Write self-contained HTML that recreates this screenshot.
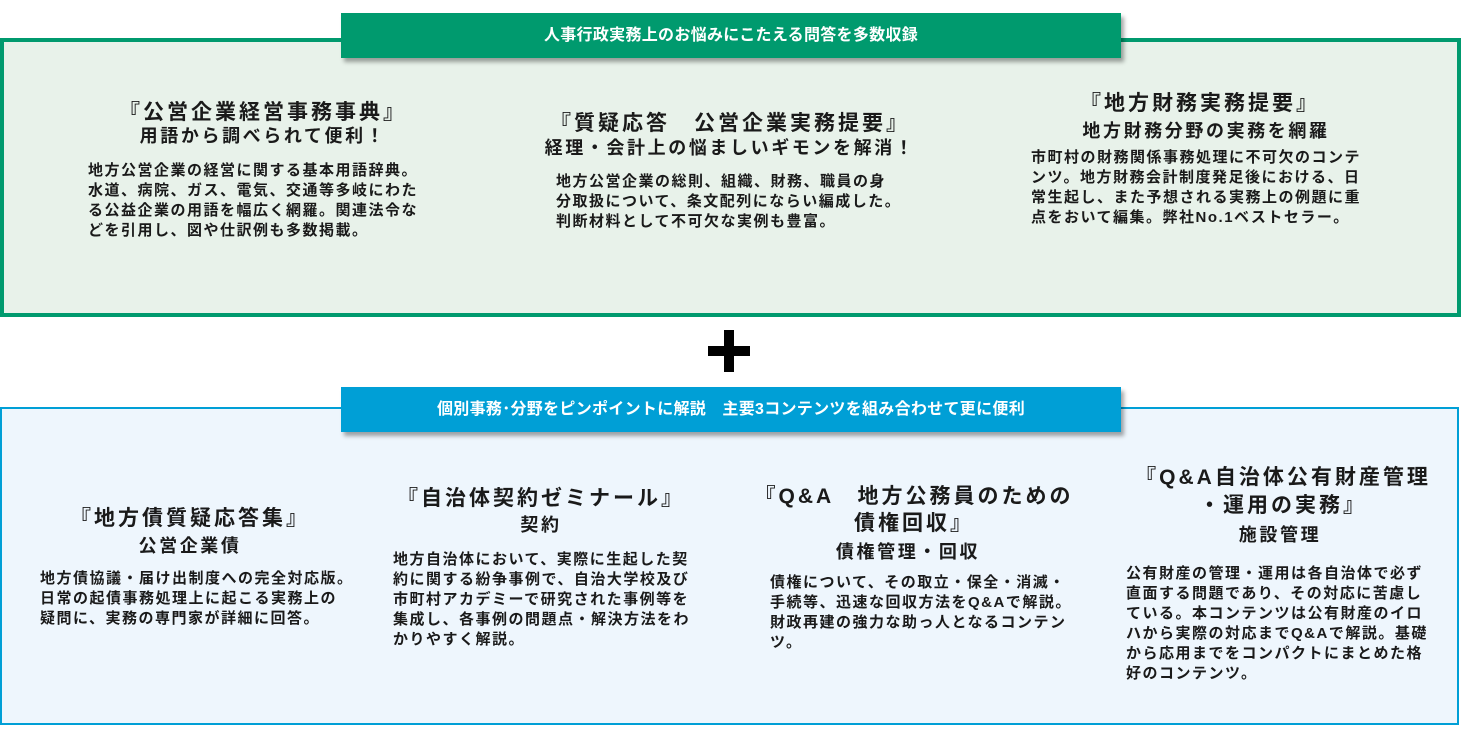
<!DOCTYPE html>
<html><head><meta charset="utf-8"><style>
*{margin:0;padding:0;box-sizing:border-box}
body{width:1462px;height:732px;background:#fff;position:relative;overflow:hidden;font-family:"Liberation Sans","Noto Sans CJK JP",sans-serif;color:#1a1a1a;font-weight:bold}
.box{position:absolute}
.banner{position:absolute;color:#fff;font-size:16px;text-align:center;line-height:45px;box-shadow:3px 4px 4px rgba(0,0,0,.35);font-weight:bold;letter-spacing:0.3px}
.t{position:absolute;text-align:center;font-size:21px;letter-spacing:3px;line-height:27px;white-space:nowrap;transform:translateX(-50%)}
.s{position:absolute;text-align:center;font-size:18px;letter-spacing:2.6px;line-height:24px;white-space:nowrap;transform:translateX(-50%)}
.b{position:absolute;font-size:15px;letter-spacing:1.5px;line-height:20px;white-space:nowrap}
</style></head><body>
<div class="box" style="left:0;top:38px;width:1461px;height:279px;background:#e8f2ea;border:4px solid #009a6e"></div>
<div class="banner" style="left:341px;top:13px;width:780px;background:#009a6e">人事行政実務上のお悩みにこたえる問答を多数収録</div>

<div class="t" style="left:263px;top:99px">『公営企業経営事務事典』</div>
<div class="s" style="left:263px;top:124px">用語から調べられて便利！</div>
<div class="b" style="left:88px;top:161px">地方公営企業の経営に関する基本用語辞典。<br>水道、病院、ガス、電気、交通等多岐にわた<br>る公益企業の用語を幅広く網羅。関連法令な<br>どを引用し、図や仕訳例も多数掲載。</div>

<div class="t" style="left:730px;top:110px">『質疑応答　公営企業実務提要』</div>
<div class="s" style="left:730px;top:136px">経理・会計上の悩ましいギモンを解消！</div>
<div class="b" style="left:556px;top:172px">地方公営企業の総則、組織、財務、職員の身<br>分取扱について、条文配列にならい編成した。<br>判断材料として不可欠な実例も豊富。</div>

<div class="t" style="left:1200px;top:90px">『地方財務実務提要』</div>
<div class="s" style="left:1206px;top:119px">地方財務分野の実務を網羅</div>
<div class="b" style="left:1031px;top:148px">市町村の財務関係事務処理に不可欠のコンテ<br>ンツ。地方財務会計制度発足後における、日<br>常生起し、また予想される実務上の例題に重<br>点をおいて編集。弊社No.1ベストセラー。</div>

<div style="position:absolute;left:708px;top:346px;width:42px;height:10px;background:#000"></div>
<div style="position:absolute;left:724px;top:330px;width:10px;height:42px;background:#000"></div>

<div class="box" style="left:0;top:407px;width:1459px;height:318px;background:#eef6fd;border:2px solid #009fd6"></div>
<div class="banner" style="left:341px;top:387px;width:780px;background:#009fd6">個別事務･分野をピンポイントに解説　主要3コンテンツを組み合わせて更に便利</div>

<div class="t" style="left:190px;top:505px">『地方債質疑応答集』</div>
<div class="s" style="left:190px;top:534px">公営企業債</div>
<div class="b" style="left:40px;top:569px">地方債協議・届け出制度への完全対応版。<br>日常の起債事務処理上に起こる実務上の<br>疑問に、実務の専門家が詳細に回答。</div>

<div class="t" style="left:541px;top:485px">『自治体契約ゼミナール』</div>
<div class="s" style="left:541px;top:513px">契約</div>
<div class="b" style="left:393px;top:550px">地方自治体において、実際に生起した契<br>約に関する紛争事例で、自治大学校及び<br>市町村アカデミーで研究された事例等を<br>集成し、各事例の問題点・解決方法をわ<br>かりやすく解説。</div>

<div class="t" style="left:914px;top:483px;text-align:center">『Q&amp;A　地方公務員のための<br>債権回収』</div>
<div class="s" style="left:908px;top:540px">債権管理・回収</div>
<div class="b" style="left:770px;top:573px">債権について、その取立・保全・消滅・<br>手続等、迅速な回収方法をQ&amp;Aで解説。<br>財政再建の強力な助っ人となるコンテン<br>ツ。</div>

<div class="t" style="left:1283px;top:464px;line-height:28px">『Q&amp;A自治体公有財産管理<br>・運用の実務』</div>
<div class="s" style="left:1280px;top:523px">施設管理</div>
<div class="b" style="left:1126px;top:564px">公有財産の管理・運用は各自治体で必ず<br>直面する問題であり、その対応に苦慮し<br>ている。本コンテンツは公有財産のイロ<br>ハから実際の対応までQ&amp;Aで解説。基礎<br>から応用までをコンパクトにまとめた格<br>好のコンテンツ。</div>
</body></html>
